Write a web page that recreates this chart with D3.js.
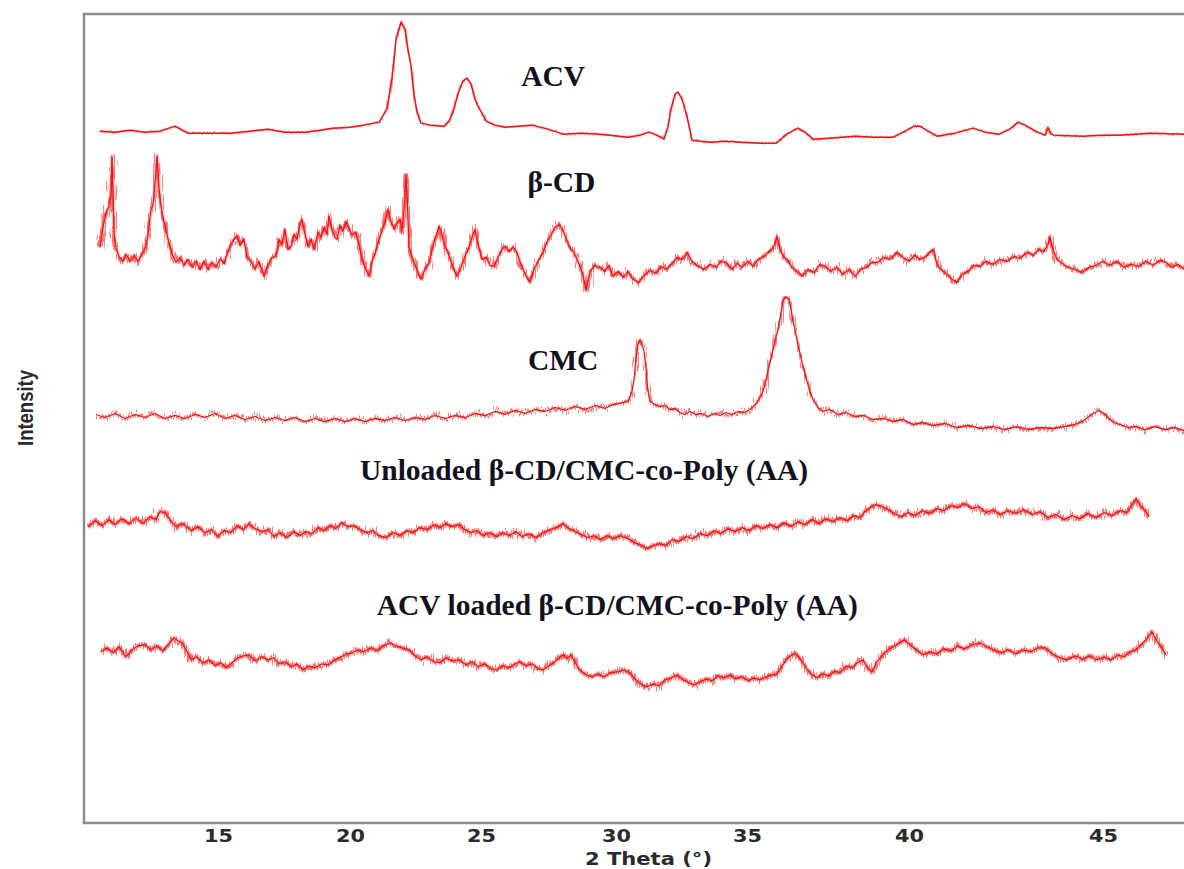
<!DOCTYPE html>
<html>
<head>
<meta charset="utf-8">
<script src="https://cdn.jsdelivr.net/npm/d3@7"></script>
<style>
  body { margin: 0; background: #fff; }
  svg { display: block; }
</style>
</head>
<body>
<div id="chart"></div>
<script>
// XRD patterns, 2 theta (deg) vs intensity (a.u., stacked)
var xTicks = [15, 20, 25, 30, 35, 40, 45]

var acv = [[10.53,691],[11.10,690],[11.67,692],[12.23,690],[12.80,691],[13.37,696],[13.86,689],[14.51,689],[15.45,689],[16.21,691],[16.89,693],[17.54,690],[18.33,690],[18.86,692],[19.36,694],[20.0,695],[20.53,697],[21.11,700],[21.41,713],[21.60,743],[21.76,783],[21.95,800],[22.10,793],[22.21,773],[22.33,756],[22.44,728],[22.56,710],[22.71,699],[23.05,697],[23.59,696],[23.78,701],[23.93,710],[24.12,728],[24.31,741],[24.47,744],[24.62,738],[24.77,723],[24.89,716],[25.19,701],[25.52,697],[25.89,695],[26.37,696],[26.89,697],[27.48,693],[28.04,688],[28.67,689],[29.41,688],[30.46,685],[30.92,687],[31.26,690],[31.56,687],[31.83,683],[31.98,695],[32.10,713],[32.25,728],[32.37,730],[32.52,723],[32.71,706],[32.90,682],[33.21,681],[33.63,680],[34.16,681],[34.81,680],[35.40,679],[35.90,679],[36.23,688],[36.57,694],[36.79,690],[37.04,683],[37.56,684],[38.33,686],[38.95,685],[39.51,685],[39.88,691],[40.13,696],[40.28,696],[40.49,691],[40.72,686],[41.19,689],[41.65,694],[41.96,690],[42.32,688],[42.60,693],[42.81,700],[42.99,697],[43.30,690],[43.51,687],[43.58,695],[43.66,688],[43.74,687],[44.46,686],[44.92,687],[45.44,687],[46.21,689],[47.09,688]]

var betaCD = [[10.53,575],[10.64,595],[10.76,610],[10.87,616],[10.95,628],[10.98,666],[11.02,633],[11.06,590],[11.14,573],[11.25,566],[11.40,561],[11.52,568],[11.67,561],[11.82,567],[11.97,561],[12.12,568],[12.23,573],[12.35,588],[12.46,613],[12.54,618],[12.61,638],[12.69,666],[12.77,633],[12.84,616],[12.95,601],[13.11,583],[13.26,568],[13.41,560],[13.56,565],[13.71,557],[13.86,563],[14.02,555],[14.17,561],[14.32,553],[14.47,561],[14.62,553],[14.77,560],[14.92,555],[15.08,563],[15.23,559],[15.38,571],[15.49,578],[15.61,583],[15.72,587],[15.83,577],[15.98,583],[16.10,565],[16.25,561],[16.40,553],[16.55,561],[16.74,546],[16.89,557],[17.05,565],[17.20,566],[17.31,583],[17.42,578],[17.54,593],[17.65,573],[17.77,576],[17.88,588],[17.99,583],[18.11,599],[18.18,603],[18.30,588],[18.41,576],[18.52,583],[18.64,573],[18.79,590],[18.90,585],[19.02,595],[19.13,588],[19.20,606],[19.32,593],[19.43,585],[19.51,583],[19.62,597],[19.73,591],[19.85,601],[19.92,596],[20.08,587],[20.23,590],[20.34,578],[20.46,563],[20.57,555],[20.73,546],[20.84,561],[20.95,568],[21.11,583],[21.22,591],[21.34,601],[21.45,613],[21.56,601],[21.68,593],[21.79,599],[21.91,603],[21.98,590],[22.06,613],[22.14,648],[22.21,608],[22.25,576],[22.37,565],[22.52,555],[22.63,547],[22.71,543],[22.86,553],[23.02,560],[23.13,573],[23.24,583],[23.40,596],[23.51,588],[23.63,575],[23.74,570],[23.89,558],[24.08,546],[24.24,555],[24.39,566],[24.54,575],[24.66,585],[24.77,593],[24.89,578],[25.04,563],[25.19,565],[25.33,557],[25.48,556],[25.63,565],[25.78,573],[25.89,576],[26.04,571],[26.19,575],[26.33,570],[26.44,561],[26.59,551],[26.70,545],[26.81,540],[26.96,553],[27.11,561],[27.30,570],[27.44,580],[27.59,587],[27.74,595],[27.89,598],[28.04,591],[28.19,581],[28.33,573],[28.44,570],[28.59,561],[28.74,551],[28.89,533],[29.04,551],[29.22,557],[29.41,555],[29.59,551],[29.74,557],[29.89,546],[30.08,551],[30.27,545],[30.46,551],[30.65,543],[30.88,540],[31.07,547],[31.30,552],[31.53,549],[31.72,556],[31.91,553],[32.14,559],[32.33,565],[32.52,563],[32.71,570],[32.90,561],[33.09,557],[33.36,553],[33.59,558],[33.82,555],[34.01,561],[34.20,560],[34.43,553],[34.62,559],[34.81,555],[35.03,561],[35.19,556],[35.34,563],[35.49,565],[35.65,570],[35.77,573],[35.86,578],[35.93,586],[36.02,573],[36.14,565],[36.23,563],[36.39,555],[36.54,551],[36.70,546],[36.88,553],[37.07,550],[37.25,558],[37.41,556],[37.59,551],[37.78,555],[37.96,548],[38.15,553],[38.33,546],[38.52,553],[38.70,555],[38.86,560],[39.04,560],[39.23,565],[39.41,563],[39.63,570],[39.81,565],[40.00,561],[40.15,567],[40.28,563],[40.44,566],[40.62,573],[40.70,561],[40.75,556],[40.88,551],[41.01,547],[41.11,543],[41.24,540],[41.37,548],[41.52,551],[41.68,557],[41.83,556],[41.98,561],[42.16,558],[42.35,563],[42.53,561],[42.71,566],[42.86,564],[43.04,570],[43.20,567],[43.35,573],[43.48,571],[43.58,578],[43.63,585],[43.71,573],[43.81,563],[43.94,559],[44.10,555],[44.28,553],[44.46,550],[44.64,555],[44.82,557],[45.00,561],[45.18,557],[45.36,561],[45.54,555],[45.72,558],[45.93,556],[46.11,561],[46.29,557],[46.47,562],[46.62,560],[46.78,555],[46.93,558],[47.09,553]]

var cmc = [[10.38,408],[10.72,405],[11.10,409],[11.48,404],[11.86,408],[12.23,405],[12.61,409],[12.99,404],[13.37,407],[13.75,404],[14.13,408],[14.51,405],[14.89,409],[15.27,404],[15.64,407],[16.02,403],[16.40,406],[16.78,402],[17.16,405],[17.54,402],[17.92,405],[18.30,401],[18.67,404],[19.05,401],[19.43,404],[19.81,401],[20.19,404],[20.57,401],[20.95,404],[21.34,402],[21.72,405],[22.10,402],[22.48,405],[22.86,403],[23.24,407],[23.63,404],[24.01,407],[24.39,405],[24.77,409],[25.15,407],[25.52,411],[25.89,408],[26.26,412],[26.63,409],[27.00,413],[27.37,411],[27.74,415],[28.11,412],[28.48,416],[28.85,413],[29.22,417],[29.59,414],[29.89,418],[30.15,419],[30.46,421],[30.61,431],[30.69,443],[30.76,463],[30.84,478],[30.92,483],[30.99,478],[31.07,471],[31.15,453],[31.22,431],[31.30,421],[31.49,418],[31.68,416],[31.87,417],[32.06,413],[32.25,414],[32.44,410],[32.63,408],[32.82,411],[33.05,408],[33.28,409],[33.51,406],[33.74,409],[33.97,407],[34.20,410],[34.43,408],[34.66,411],[34.89,410],[35.09,413],[35.22,417],[35.31,420],[35.40,425],[35.49,431],[35.59,443],[35.68,456],[35.77,468],[35.86,481],[35.96,493],[36.05,510],[36.11,521],[36.17,525],[36.23,525],[36.30,523],[36.36,513],[36.42,501],[36.48,493],[36.57,478],[36.70,460],[36.82,445],[36.94,431],[37.04,423],[37.19,415],[37.35,411],[37.56,413],[37.81,408],[38.06,410],[38.33,406],[38.61,407],[38.89,403],[39.20,404],[39.51,401],[39.81,403],[40.10,398],[40.36,400],[40.62,397],[40.93,399],[41.24,395],[41.55,397],[41.86,394],[42.16,396],[42.47,393],[42.78,396],[43.09,393],[43.40,395],[43.71,394],[44.02,396],[44.28,398],[44.46,401],[44.61,405],[44.74,409],[44.90,412],[45.03,409],[45.15,404],[45.28,400],[45.44,398],[45.64,395],[45.85,396],[46.08,393],[46.34,396],[46.59,393],[46.85,395],[47.09,392]]

var unloaded = [[10.08,296],[10.34,302],[10.61,297],[10.87,303],[11.10,298],[11.36,304],[11.63,299],[11.89,305],[12.16,299],[12.42,306],[12.65,303],[12.80,311],[12.99,310],[13.18,303],[13.41,296],[13.67,299],[13.98,292],[14.24,296],[14.51,290],[14.77,293],[15.00,286],[15.23,292],[15.49,290],[15.72,297],[15.95,293],[16.17,299],[16.40,294],[16.67,291],[16.89,293],[17.12,286],[17.35,290],[17.61,285],[17.88,291],[18.11,287],[18.33,291],[18.56,289],[18.79,295],[19.02,292],[19.24,297],[19.47,294],[19.70,300],[19.92,296],[20.15,297],[20.38,293],[20.65,290],[20.88,292],[21.11,287],[21.37,285],[21.64,290],[21.91,287],[22.18,292],[22.40,290],[22.67,295],[22.94,293],[23.21,298],[23.44,295],[23.66,299],[23.89,296],[24.16,298],[24.39,293],[24.62,290],[24.85,292],[25.07,287],[25.33,290],[25.59,286],[25.81,290],[26.04,287],[26.30,291],[26.52,286],[26.78,289],[27.04,285],[27.30,290],[27.56,293],[27.81,295],[28.04,299],[28.26,294],[28.48,291],[28.74,288],[28.96,285],[29.19,287],[29.41,283],[29.67,287],[29.89,284],[30.15,287],[30.46,284],[30.69,280],[30.92,278],[31.18,274],[31.41,277],[31.68,279],[31.91,277],[32.14,283],[32.40,281],[32.67,286],[32.94,284],[33.21,289],[33.47,287],[33.74,292],[34.01,289],[34.28,294],[34.54,291],[34.81,295],[35.06,292],[35.28,297],[35.49,294],[35.71,298],[35.93,295],[36.14,300],[36.36,296],[36.57,301],[36.79,298],[37.01,303],[37.22,299],[37.44,304],[37.65,301],[37.87,305],[38.09,302],[38.30,307],[38.49,305],[38.64,311],[38.80,315],[38.98,318],[39.17,316],[39.35,313],[39.54,309],[39.75,306],[39.97,310],[40.15,307],[40.34,312],[40.54,309],[40.72,314],[40.90,312],[41.08,317],[41.26,315],[41.44,319],[41.62,314],[41.80,316],[41.98,310],[42.16,313],[42.35,308],[42.55,312],[42.76,309],[42.96,313],[43.17,308],[43.38,311],[43.58,305],[43.79,308],[44.00,303],[44.20,307],[44.41,304],[44.61,309],[44.82,305],[45.03,310],[45.23,307],[45.44,312],[45.62,310],[45.75,318],[45.85,324],[45.95,318],[46.06,313],[46.19,306]]

var loaded = [[10.57,171],[10.80,175],[11.02,170],[11.25,176],[11.52,166],[11.74,173],[11.97,177],[12.23,178],[12.46,173],[12.69,177],[12.92,172],[13.14,179],[13.33,185],[13.48,182],[13.64,180],[13.83,171],[13.98,163],[14.20,166],[14.43,160],[14.66,163],[14.89,157],[15.11,160],[15.30,155],[15.53,160],[15.76,165],[15.95,167],[16.17,168],[16.40,162],[16.67,166],[16.89,163],[17.12,165],[17.31,159],[17.54,161],[17.77,156],[17.99,159],[18.22,153],[18.45,157],[18.67,155],[18.94,159],[19.20,158],[19.43,163],[19.66,166],[19.89,169],[20.08,170],[20.31,173],[20.53,171],[20.80,175],[21.03,172],[21.26,177],[21.53,180],[21.76,177],[21.98,175],[22.25,173],[22.48,167],[22.71,163],[22.94,166],[23.21,161],[23.44,160],[23.66,165],[23.93,162],[24.16,163],[24.43,158],[24.66,161],[24.89,156],[25.15,159],[25.37,154],[25.59,153],[25.81,157],[26.04,155],[26.26,159],[26.44,161],[26.67,157],[26.89,159],[27.11,154],[27.30,153],[27.52,157],[27.74,161],[27.93,166],[28.04,168],[28.19,164],[28.33,168],[28.44,163],[28.59,155],[28.74,151],[28.89,148],[29.11,146],[29.33,149],[29.56,146],[29.78,150],[30.04,151],[30.31,153],[30.53,150],[30.76,143],[30.99,138],[31.18,136],[31.41,139],[31.64,137],[31.87,143],[32.10,145],[32.33,148],[32.56,143],[32.79,140],[32.98,138],[33.21,141],[33.44,144],[33.66,142],[33.89,147],[34.12,145],[34.35,148],[34.58,144],[34.81,146],[35.03,142],[35.22,145],[35.40,143],[35.59,146],[35.74,148],[35.90,148],[36.08,157],[36.27,165],[36.48,170],[36.67,163],[36.82,155],[37.01,148],[37.16,145],[37.35,149],[37.53,147],[37.72,152],[37.87,150],[38.06,157],[38.24,155],[38.40,160],[38.58,163],[38.73,155],[38.86,151],[39.01,161],[39.17,167],[39.35,173],[39.51,176],[39.66,179],[39.85,183],[40.03,178],[40.18,173],[40.36,168],[40.54,171],[40.72,169],[40.90,174],[41.08,172],[41.26,177],[41.44,174],[41.62,178],[41.83,180],[42.01,176],[42.19,173],[42.37,170],[42.55,173],[42.76,169],[42.94,173],[43.14,171],[43.32,175],[43.51,175],[43.69,169],[43.89,165],[44.07,163],[44.28,167],[44.46,164],[44.66,167],[44.85,163],[45.03,166],[45.21,163],[45.39,168],[45.54,166],[45.70,171],[45.85,173],[45.98,178],[46.11,183],[46.19,187],[46.26,191],[46.34,185],[46.44,179],[46.52,175],[46.62,168]]

var seriesNames = ["ACV", "\u03b2-CD", "CMC", "Unloaded \u03b2-CD/CMC-co-Poly (AA)", "ACV loaded \u03b2-CD/CMC-co-Poly (AA)"]
var seriesData = [acv, betaCD, cmc, unloaded, loaded]

var W = 1184, H = 869
var plotLeft = 84, plotTop = 14, plotBottom = 823

var svg = d3.select("#chart").append("svg")
    .attr("width", W)
    .attr("height", H)

// grainy look of the scans: vertical jitter filters on a copy of each trace
var defs = svg.append("defs")
function addJitter(id, amount) {
    var f = defs.append("filter")
        .attr("id", id)
        .attr("filterUnits", "userSpaceOnUse")
        .attr("x", 0).attr("y", 0).attr("width", W).attr("height", H)
    f.append("feTurbulence")
        .attr("type", "fractalNoise")
        .attr("baseFrequency", "0.9 0.04")
        .attr("numOctaves", 1)
        .attr("seed", 3)
        .attr("result", "grain")
    f.append("feDisplacementMap")
        .attr("in", "SourceGraphic")
        .attr("in2", "grain")
        .attr("scale", amount)
        .attr("xChannelSelector", "B")
        .attr("yChannelSelector", "G")
}
addJitter("jitterSoft", 5)
addJitter("jitterHard", 15)

// the printed axis is uneven, so the scale is piecewise through the tick labels
var x = d3.scaleLinear()
    .domain(xTicks)
    .range([218, 350, 481, 616, 747, 909, 1103])

var y = d3.scaleLinear()
    .domain([0, 808])
    .range([plotBottom, plotTop])

// frame (open on the right like the original crop)
svg.append("path")
    .attr("d", "M" + W + "," + plotTop + "H" + plotLeft + "V" + plotBottom + "H" + W)
    .attr("fill", "none")
    .attr("stroke", "#8c8c8c")
    .attr("stroke-width", 2.5)

var line = d3.line()
    .x(function(d){ return x(d[0]) })
    .y(function(d){ return y(d[1]) })

var noisy = [false, true, true, true, true]
var grain = [1.8, 3, 2.5, 3.5, 3.5]
var halo = [0, 4, 0, 5, 5]

seriesData.forEach(function(s, i){
    if (halo[i] > 0) {
        svg.append("path")
            .datum(s)
            .attr("d", line)
            .attr("fill", "none")
            .attr("stroke", "#ff3a3a")
            .attr("stroke-width", halo[i])
            .attr("stroke-opacity", 0.22)
            .attr("stroke-linejoin", "round")
    }
    svg.append("path")
        .datum(s)
        .attr("d", line)
        .attr("fill", "none")
        .attr("stroke", "#ff2a2a")
        .attr("stroke-width", grain[i])
        .attr("stroke-opacity", noisy[i] ? 0.6 : 0.4)
        .attr("stroke-linejoin", "round")
        .attr("filter", noisy[i] ? "url(#jitterHard)" : "url(#jitterSoft)")
    svg.append("path")
        .datum(s)
        .attr("d", line)
        .attr("fill", "none")
        .attr("stroke", "#f01414")
        .attr("stroke-width", noisy[i] ? 1.3 : 1.5)
        .attr("stroke-linejoin", "round")
})

// series labels, anchored in data units
var labelPos = [[26.49, 736], [26.72, 630], [26.74, 452], [20.38, 343], [21.02, 208]]
svg.selectAll(".slabel").data(seriesNames)
    .enter().append("text")
    .attr("class", "slabel")
    .attr("x", function(d, i){ return x(labelPos[i][0]) })
    .attr("y", function(d, i){ return y(labelPos[i][1]) })
    .text(function(d){ return d })
    .style("font-family", "'Liberation Serif', 'Times New Roman', serif")
    .style("font-weight", "bold")
    .style("font-size", "29.5px")
    .style("fill", "#12121f")

// x axis labels (no tick marks in the original)
var xAxis = d3.axisBottom(x)
    .tickValues(xTicks)
    .tickSize(0)
    .tickPadding(0)
var gx = svg.append("g")
    .attr("transform", "translate(0," + plotBottom + ")")
    .call(xAxis)
gx.select(".domain").remove()
gx.selectAll("text")
    .attr("y", 19)
    .attr("dy", 0)
    .attr("textLength", 29)
    .attr("lengthAdjust", "spacingAndGlyphs")
    .style("font-family", "'DejaVu Sans', sans-serif")
    .style("font-weight", "bold")
    .style("font-size", "18px")
    .style("fill", "#2a2a2a")

svg.append("text")
    .attr("x", 585)
    .attr("y", 865)
    .attr("textLength", 127)
    .attr("lengthAdjust", "spacingAndGlyphs")
    .text("2 Theta (\u00b0)")
    .style("font-family", "'DejaVu Sans', sans-serif")
    .style("font-weight", "bold")
    .style("font-size", "17px")
    .style("fill", "#2a2a2a")

svg.append("text")
    .attr("transform", "translate(33,408) rotate(-90)")
    .attr("text-anchor", "middle")
    .attr("textLength", 76)
    .attr("lengthAdjust", "spacingAndGlyphs")
    .text("Intensity")
    .style("font-family", "'Liberation Sans Narrow', 'Arial Narrow', 'Liberation Sans', sans-serif")
    .style("font-weight", "bold")
    .style("font-size", "22px")
    .style("fill", "#2a2a2a")
</script>
</body>
</html>
